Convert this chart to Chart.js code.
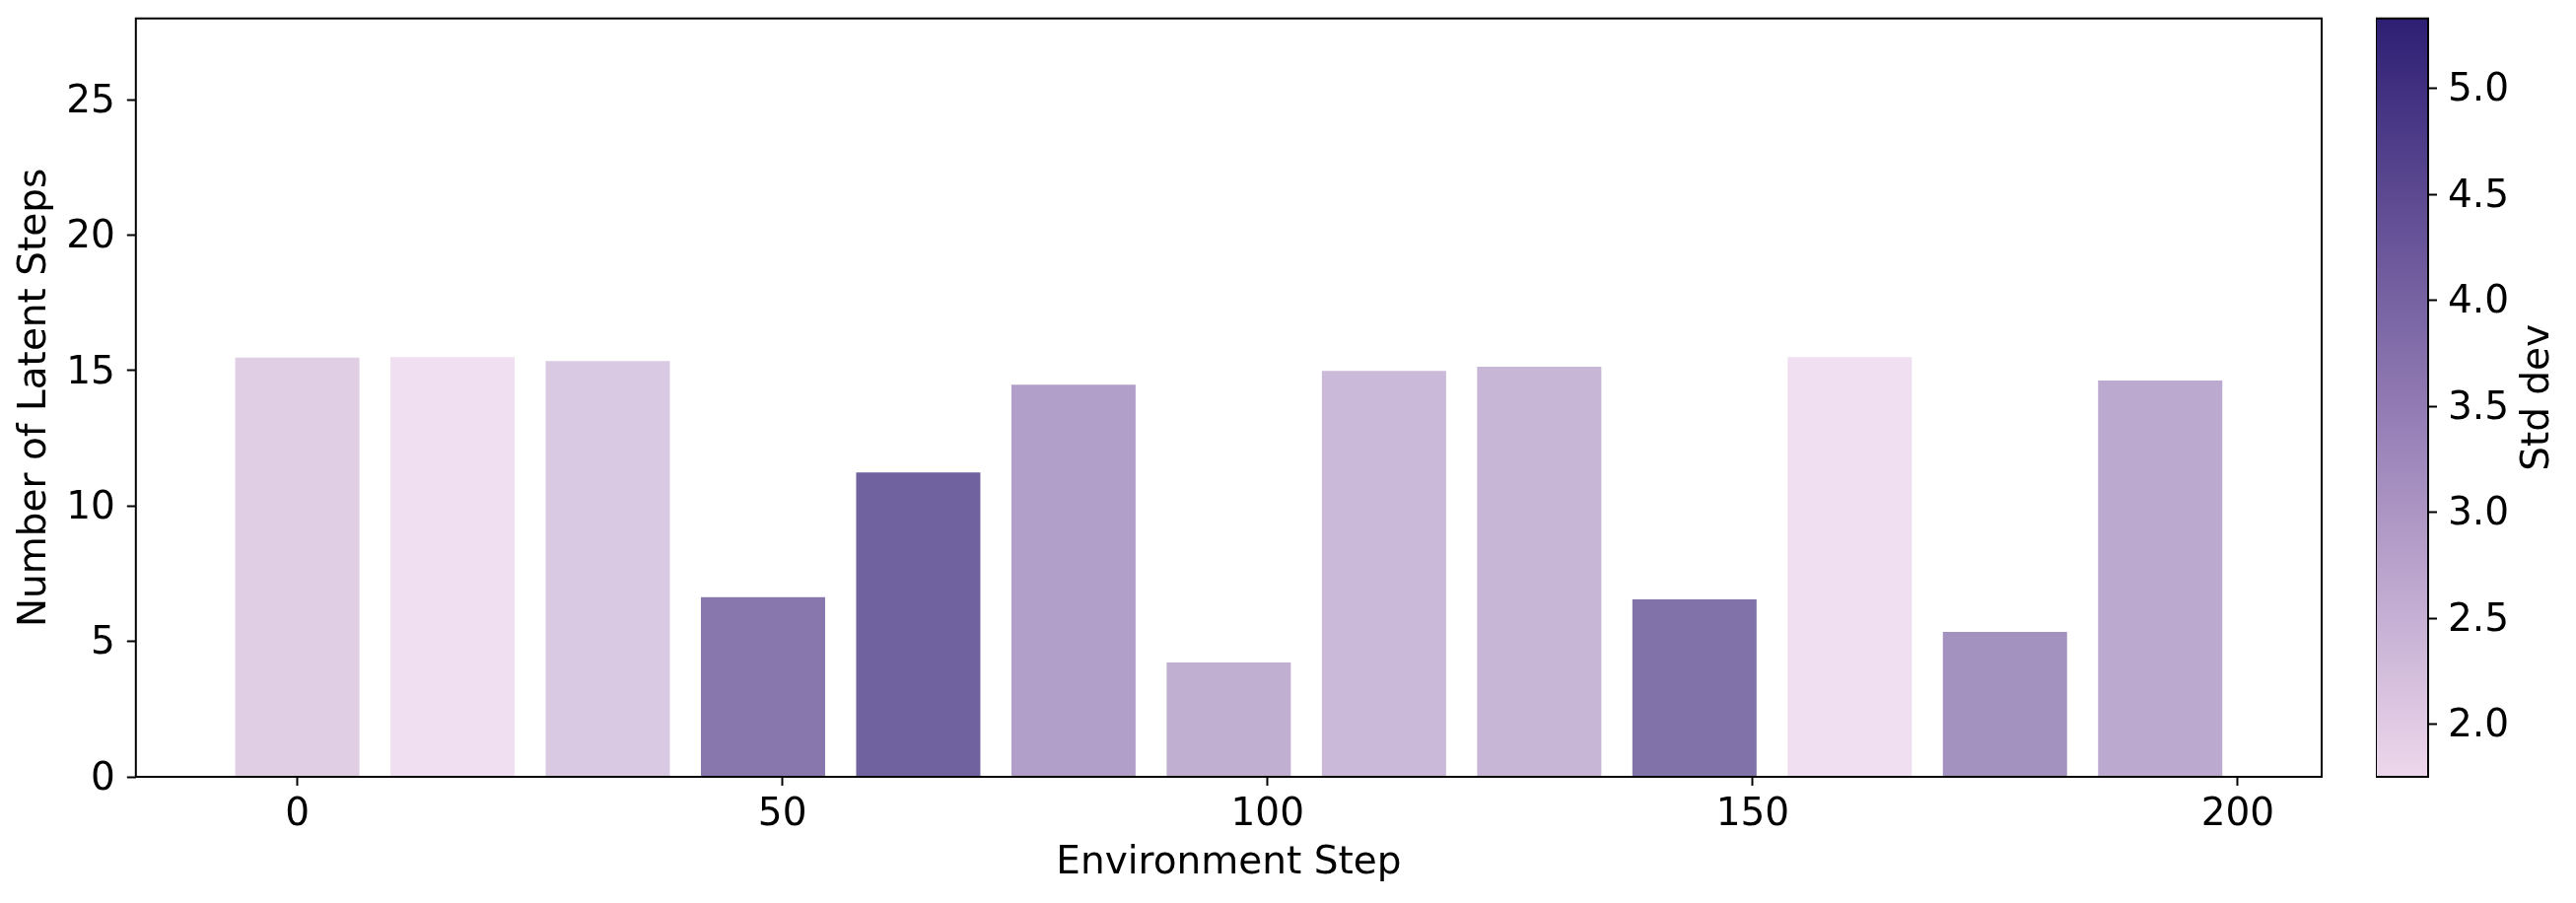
<!DOCTYPE html>
<html>
<head>
<meta charset="utf-8">
<script src="https://cdn.jsdelivr.net/npm/chart.js@4.4.1/dist/chart.umd.min.js"></script>
<style>
  html, body { margin: 0; padding: 0; background: #ffffff; }
  #wrap { position: relative; width: 2613px; height: 916px; }
  #mainChart { position: absolute; left: 0; top: 0; }
  #cbChart { position: absolute; left: 2410px; top: 0; }
</style>
</head>
<body>
<div id="wrap">
  <canvas id="mainChart" width="2613" height="916"></canvas>
  <canvas id="cbChart" width="203" height="916"></canvas>
</div>
<script>
// data
const envSteps = [0, 16, 32, 48, 64, 80, 96, 112, 128, 144, 160, 176, 192];
const latentSteps = [15.48, 15.5, 15.35, 6.63, 11.24, 14.48, 4.22, 14.99, 15.14, 6.55, 15.5, 5.35, 14.63];
const stdDev = [2.15, 1.76, 2.29, 4.26, 4.79, 3.27, 2.9, 2.67, 2.72, 4.38, 1.753, 3.61, 3.02];
const stdRange = [1.753, 5.329];
const xRange = [-16.64, 208.64];
const yRange = [0, 28];

// colormap: light lilac -> dark indigo
const cmapStops = [
  [0, [236, 215, 236]],
  [0.5, [144, 121, 178]],
  [1, [46, 31, 116]],
];

const FONT = { family: "'DejaVu Sans', sans-serif", size: 39 };
Chart.defaults.font.family = FONT.family;
Chart.defaults.font.size = FONT.size;
Chart.defaults.color = "#000000";

function cmapRGB(t) {
  t = Math.max(0, Math.min(1, t));
  for (let i = 1; i < cmapStops.length; i++) {
    const [t0, c0] = cmapStops[i - 1];
    const [t1, c1] = cmapStops[i];
    if (t <= t1) {
      const f = (t - t0) / (t1 - t0);
      return c0.map((c, k) => Math.round(c + (c1[k] - c) * f));
    }
  }
  return cmapStops[cmapStops.length - 1][1];
}

function colorFor(v, alpha) {
  const t = (v - stdRange[0]) / (stdRange[1] - stdRange[0]);
  const [r, g, b] = cmapRGB(t);
  return `rgba(${r}, ${g}, ${b}, ${alpha})`;
}

// axes frame drawn round the chart area
const framePlugin = {
  id: "frame",
  afterDraw(chart) {
    const { ctx, chartArea: a } = chart;
    ctx.save();
    ctx.strokeStyle = "#000000";
    ctx.lineWidth = 2;
    ctx.strokeRect(a.left, a.top, a.right - a.left, a.bottom - a.top);
    ctx.restore();
  },
};

const tickGrid = {
  display: true,
  drawOnChartArea: false,
  drawTicks: true,
  tickLength: 9,
  tickWidth: 2,
  tickColor: "#000000",
  offset: false,
};

function initMainChart() {
  const canvas = document.getElementById("mainChart");
  return new Chart(canvas.getContext("2d"), {
    type: "bar",
    data: {
      datasets: [
        {
          data: envSteps.map((x, i) => ({ x: x, y: latentSteps[i] })),
          backgroundColor: stdDev.map((v) => colorFor(v, 0.8)),
          borderWidth: 0,
          barPercentage: 0.8,
          categoryPercentage: 1.0,
        },
      ],
    },
    options: {
      responsive: false,
      devicePixelRatio: 1,
      animation: false,
      layout: { padding: { left: 0, top: 18.7, right: 258, bottom: 0 } },
      plugins: { legend: { display: false }, tooltip: { enabled: false } },
      scales: {
        x: {
          type: "linear",
          min: xRange[0],
          max: xRange[1],
          offset: false,
          grid: tickGrid,
          border: { display: false },
          ticks: { stepSize: 50, includeBounds: false, padding: 6, color: "#000000" },
          title: {
            display: true,
            text: "Environment Step",
            color: "#000000",
            padding: { top: 0, bottom: 16.6 },
          },
          afterFit(scale) {
            scale.height = 128;
            scale.paddingLeft = 0;
            scale.paddingRight = 0;
          },
        },
        y: {
          min: yRange[0],
          max: yRange[1],
          grid: tickGrid,
          border: { display: false },
          ticks: { stepSize: 5, includeBounds: false, padding: 12, labelOffset: 2.5, color: "#000000" },
          title: {
            display: true,
            text: "Number of Latent Steps",
            color: "#000000",
            padding: { top: 12.3, bottom: 0 },
          },
          afterFit(scale) {
            scale.width = 137.8;
            scale.paddingTop = 0;
            scale.paddingBottom = 0;
          },
        },
      },
    },
    plugins: [framePlugin],
  });
}

// colour bar label reads bottom to top like matplotlib's
const cbLabelPlugin = {
  id: "cbLabel",
  afterDraw(chart) {
    const { ctx, chartArea: a } = chart;
    ctx.save();
    ctx.translate(175, (a.top + a.bottom) / 2);
    ctx.rotate(-Math.PI / 2);
    ctx.font = `${FONT.size}px ${FONT.family}`;
    ctx.fillStyle = "#000000";
    ctx.textAlign = "center";
    ctx.textBaseline = "alphabetic";
    ctx.fillText("Std dev", 0, 0);
    ctx.restore();
  },
};

function initColorbar() {
  const canvas = document.getElementById("cbChart");
  return new Chart(canvas.getContext("2d"), {
    type: "bar",
    data: {
      labels: ["cb"],
      datasets: [
        {
          data: [[stdRange[0], stdRange[1]]],
          backgroundColor: (context) => {
            const { chart } = context;
            const a = chart.chartArea;
            if (!a) return null;
            const g = chart.ctx.createLinearGradient(0, a.bottom, 0, a.top);
            for (let i = 0; i <= 20; i++) {
              const t = i / 20;
              const [r, gg, b] = cmapRGB(t);
              g.addColorStop(t, `rgb(${r}, ${gg}, ${b})`);
            }
            return g;
          },
          borderWidth: 0,
          borderSkipped: false,
          barPercentage: 1,
          categoryPercentage: 1,
        },
      ],
    },
    options: {
      responsive: false,
      devicePixelRatio: 1,
      animation: false,
      layout: { padding: { left: 0, top: 18.7, right: 0, bottom: 128 } },
      plugins: { legend: { display: false }, tooltip: { enabled: false } },
      scales: {
        x: { display: false },
        y: {
          position: "right",
          min: stdRange[0],
          max: stdRange[1],
          grid: tickGrid,
          border: { display: false },
          ticks: {
            stepSize: 0.5,
            includeBounds: false,
            padding: 11,
            labelOffset: 2.5,
            color: "#000000",
            callback: (v) => v.toFixed(1),
          },
          afterFit(scale) {
            scale.width = 150;
            scale.paddingTop = 0;
            scale.paddingBottom = 0;
          },
        },
      },
    },
    plugins: [framePlugin, cbLabelPlugin],
  });
}

initMainChart();
initColorbar();
</script>
</body>
</html>
